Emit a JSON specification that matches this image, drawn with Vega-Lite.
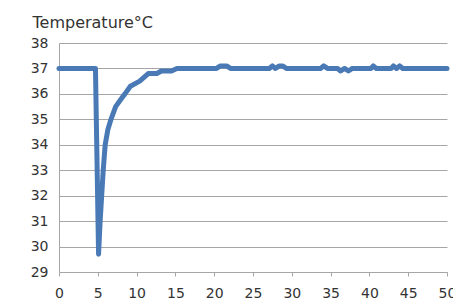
{
  "$schema": "https://vega.github.io/schema/vega-lite/v6.json",
  "width": 388,
  "height": 229,
  "autosize": "none",
  "padding": {"left": 59, "top": 43, "right": 6, "bottom": 28},
  "background": "white",
  "config": {"view": {"stroke": null}, "font": "DejaVu Sans"},
  "data": {"values": [
    {"t": 0, "temp": 37}, {"t": 4.7, "temp": 37}, {"t": 5.1, "temp": 29.7},
    {"t": 5.3, "temp": 31}, {"t": 5.5, "temp": 32}, {"t": 5.7, "temp": 33},
    {"t": 5.95, "temp": 34}, {"t": 6.3, "temp": 34.6}, {"t": 6.7, "temp": 35},
    {"t": 7.3, "temp": 35.5}, {"t": 8, "temp": 35.8}, {"t": 8.5, "temp": 36},
    {"t": 9.2, "temp": 36.3}, {"t": 10.4, "temp": 36.5}, {"t": 11.5, "temp": 36.8},
    {"t": 12.6, "temp": 36.8}, {"t": 13.2, "temp": 36.9}, {"t": 14.5, "temp": 36.9},
    {"t": 15.2, "temp": 37}, {"t": 20.3, "temp": 37}, {"t": 20.8, "temp": 37.1},
    {"t": 21.6, "temp": 37.1}, {"t": 22.1, "temp": 37}, {"t": 27.1, "temp": 37},
    {"t": 27.5, "temp": 37.1}, {"t": 27.9, "temp": 37}, {"t": 28.4, "temp": 37.1},
    {"t": 28.8, "temp": 37.1}, {"t": 29.3, "temp": 37}, {"t": 33.7, "temp": 37},
    {"t": 34.1, "temp": 37.1}, {"t": 34.6, "temp": 37}, {"t": 35.9, "temp": 37},
    {"t": 36.3, "temp": 36.9}, {"t": 36.8, "temp": 37}, {"t": 37.3, "temp": 36.9},
    {"t": 37.8, "temp": 37}, {"t": 40.2, "temp": 37}, {"t": 40.5, "temp": 37.1},
    {"t": 40.9, "temp": 37}, {"t": 42.8, "temp": 37}, {"t": 43.1, "temp": 37.1},
    {"t": 43.5, "temp": 37}, {"t": 43.9, "temp": 37.1}, {"t": 44.3, "temp": 37},
    {"t": 50, "temp": 37}
  ]},
  "mark": {"type": "line", "color": "#4a7ab5", "strokeWidth": 5, "strokeCap": "round", "strokeJoin": "round", "clip": false},
  "encoding": {
    "x": {"field": "t", "type": "quantitative",
      "scale": {"domain": [0, 50], "nice": false, "zero": false},
      "axis": {"values": [0,5,10,15,20,25,30,35,40,45,50], "grid": false, "title": null,
        "domainColor": "#a6a6a6", "tickColor": "#a6a6a6", "tickSize": 4, "labelPadding": 10,
        "labelFontSize": 14, "labelColor": "#333333", "labelFlush": false}},
    "y": {"field": "temp", "type": "quantitative",
      "scale": {"domain": [29, 38], "nice": false, "zero": false},
      "axis": {"values": [29,30,31,32,33,34,35,36,37,38], "gridColor": "#a6a6a6", "gridWidth": 1,
        "domainColor": "#a6a6a6", "ticks": false, "labelPadding": 11,
        "labelFontSize": 14, "labelColor": "#333333",
        "title": "Temperature°C", "titleAngle": 0, "titleAlign": "left", "titleBaseline": "alphabetic",
        "titleX": -27, "titleY": -16, "titleFontSize": 16, "titleFontWeight": "normal", "titleColor": "#333333"}}
  }
}
